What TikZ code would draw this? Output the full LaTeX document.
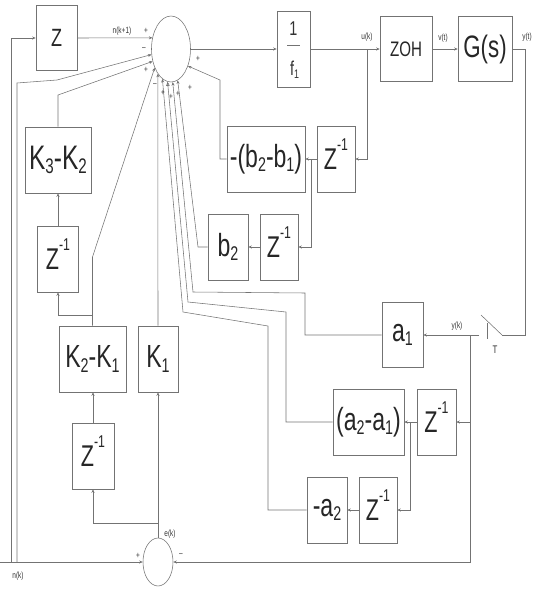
\documentclass[tikz,border=0pt]{standalone}
\usepackage{fontspec}
\setmainfont{Liberation Sans}[FakeStretch=0.72]
\usetikzlibrary{shapes.geometric,arrows.meta}
\makeatletter
\newdimen\sbdim
\newcommand\sbx[1]{\sbdim=\f@size pt \sbdim=0.62\sbdim \raisebox{-0.13em}{\fontsize{\sbdim}{\sbdim}\selectfont #1}}
\newcommand\zinv{Z\smash{\raisebox{0.62em}{\sbdim=\f@size pt \sbdim=0.57\sbdim \fontsize{\sbdim}{\sbdim}\selectfont -1}}}
\makeatother
\tikzset{
 ln/.style={draw=black!55, line width=0.55pt},
 ar/.style={ln, -{Stealth[length=3.5pt,width=3pt]}},
 blk/.style={draw=black!55, line width=0.55pt, inner sep=0pt, text=black!85, font=\fontsize{32}{36}\selectfont},
 zb/.style={blk, font=\fontsize{30}{34}\selectfont},
 lab/.style={inner sep=0pt, text=black!80, font=\fontsize{9}{10}\selectfont},
 sgn/.style={inner sep=0pt, text=black!80, font=\fontsize{9}{10}\selectfont},
 sumn/.style={ellipse, draw=black!55, line width=0.55pt, inner sep=0pt},
}
\begin{document}
\begin{tikzpicture}[x=1pt,y=-1pt]
\useasboundingbox (0,0) rectangle (535,590);
% blocks
\node[sumn, minimum width=39pt, minimum height=66pt] (S) at (171,49) {};
\node[blk, minimum width=41pt, minimum height=65pt, font=\fontsize{25}{28}\selectfont] (Z) at (56.5,38) {Z};
\node[blk, minimum width=33pt, minimum height=76pt] (F) at (293.5,49) {};
\node[blk, minimum width=52pt, minimum height=65pt, font=\fontsize{21}{24}\selectfont] (ZOH) at (406,49) {ZOH};
\node[blk, minimum width=54pt, minimum height=65pt, font=\fontsize{31}{34}\selectfont] (G) at (485,49) {G(s)};
\node[blk, minimum width=78pt, minimum height=66pt] (B21) at (266,159) {-(b\sbx{2}-b\sbx{1})};
\node[zb, minimum width=38pt, minimum height=66pt] (ZU) at (336,159) {\zinv};
\node[blk, minimum width=40pt, minimum height=66pt] (B2) at (228,247) {b\sbx{2}};
\node[zb, minimum width=38pt, minimum height=66pt] (ZB) at (279,247) {\zinv};
\node[blk, minimum width=66pt, minimum height=66pt, font=\fontsize{34}{38}\selectfont] (K32) at (58,160) {K\sbx{3}-K\sbx{2}};
\node[zb, minimum width=41pt, minimum height=66pt] (Z1) at (58,259) {\zinv};
\node[blk, minimum width=67pt, minimum height=66pt] (K21) at (92.5,359) {K\sbx{2}-K\sbx{1}};
\node[blk, minimum width=40pt, minimum height=66pt] (K1) at (158,359) {K\sbx{1}};
\node[zb, minimum width=42pt, minimum height=66pt] (Z2) at (93,456) {\zinv};
\node[sumn, minimum width=30pt, minimum height=48pt] (BS) at (158,562) {};
\node[blk, minimum width=41pt, minimum height=65pt] (A1) at (402.5,335) {a\sbx{1}};
\node[blk, minimum width=71pt, minimum height=66pt] (A21) at (368.5,422) {(a\sbx{2}-a\sbx{1})};
\node[zb, minimum width=39pt, minimum height=66pt] (Z3) at (436.5,422) {\zinv};
\node[blk, minimum width=40pt, minimum height=66pt] (MA2) at (327,510) {-a\sbx{2}};
\node[zb, minimum width=38pt, minimum height=66pt] (Z4) at (378,510) {\zinv};
% 1/f1 contents
\node[lab, font=\fontsize{20}{22}\selectfont] (F1n) at ([yshift=20pt]F.center) {1};
\draw[ln] ([xshift=-6.5pt,yshift=4pt]F.center) -- ([xshift=6.5pt,yshift=4pt]F.center);
\node[lab, font=\fontsize{20}{22}\selectfont] (F1d) at ([xshift=1pt,yshift=-21pt]F.center) {f\sbx{1}};
% n(k) line and left feeds
\coordinate (nk) at (0,562);
\coordinate (j11) at (11,562);
\coordinate (j17) at (17,562);
\draw[ar] (nk) -- (BS.west);
\draw[ar] (j11) -- (j11 |- Z.west) -- (Z.west);
\draw[ar] (j17) -- (17,83) -- (57,80) -- (S.196.6);
\draw[ar] (Z.east) -- (S.149.1);
% forward path
\draw[ar] (S.east) -- (F.west);
\draw[ar] (F.east) -- (ZOH.west);
\draw[ar] (ZOH.east) -- (G.west);
\coordinate (uk) at (367,49);
\draw[ar] (uk) -- (uk |- ZU.east) -- (ZU.east);
\draw[ar] (ZU.west) -- (B21.east);
\coordinate (jb) at (311,159);
\draw[ar] (jb) -- (jb |- ZB.east) -- (ZB.east);
\draw[ar] (ZB.west) -- (B2.east);
\draw[ar] (B21.west) -- (220,159) -- (220,80) -- (S.315.7);
\draw[ar] (B2.west) -- (198,247) -- (S.282.1);
% plant output, sampler
\coordinate (yt) at (525,49);
\coordinate (swr) at (502,335);
\coordinate (swl) at (479,335);
\draw[ln] (G.east) -- (yt) -- (yt |- swr) -- (swr);
\draw[ln] (swr) -- (481,315);
\draw[ln] (487,323) -- (487,339);
\draw[ar] (swl) -- (A1.east);
\coordinate (yk) at (470,335);
\draw[ar] (yk) -- (470,562) -- (BS.east);
\coordinate (jz3) at (470,422);
\draw[ar] (jz3) -- (Z3.east);
\draw[ar] (Z3.west) -- (A21.east);
\coordinate (ja) at (410,422);
\draw[ar] (ja) -- (ja |- Z4.east) -- (Z4.east);
\draw[ar] (Z4.west) -- (MA2.east);
\draw[ar] (A1.west) -- (305,335) -- (305,293) -- (193,292) -- (S.273.0);
\draw[ar] (A21.west) -- (286,422) -- (286,312) -- (188,302) -- (S.264.0);
\draw[ar] (MA2.west) -- (268,510) -- (268,326) -- (183,312) -- (S.254.6);
% controller
\draw[ar] (BS.north) -- (K1.south);
\coordinate (je) at (158,523);
\draw[ar] (je) -- (93,523) -- (Z2.south);
\draw[ar] (Z2.north) -- (Z2.north |- K21.south);
\draw[ar] (K1.north) -- (S.242.1);
\draw[ar] (K21.north) -- (92.5,257) -- (S.229.8);
\coordinate (jk) at (92.5,315);
\draw[ar] (jk) -- (58,315) -- (Z1.south);
\draw[ar] (Z1.north) -- (K32.south);
\draw[ar] (K32.north) -- (58,95) -- (S.214.4);
% signs
\node[sgn] at (146,31) {+};
\node[sgn] at (144,49) {–};
\node[sgn] at (146,70) {+};
\node[sgn] at (155,85) {–};
\node[sgn] at (163,93) {+};
\node[sgn] at (168,87) {–};
\node[sgn] at (171,97) {+};
\node[sgn] at (178,94) {+};
\node[sgn] at (190,88) {+};
\node[sgn] at (198,59) {+};
\node[sgn] at (138,556) {+};
\node[sgn] at (181,555) {–};
% labels
\node[lab] at (122,31) {n(k+1)};
\node[lab] at (367,37) {u(k)};
\node[lab] at (443,38) {v(t)};
\node[lab] at (527,37) {y(t)};
\node[lab] at (457,326) {y(k)};
\node[lab, font=\fontsize{11}{12}\selectfont] at (495,350) {T};
\node[lab] at (170,534) {e(k)};
\node[lab] at (18,576) {n(k)};
\end{tikzpicture}
\end{document}
